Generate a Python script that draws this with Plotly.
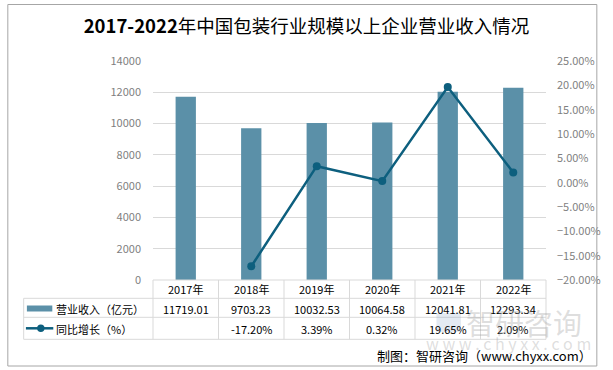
import plotly.graph_objects as go

# ---- data ----
categories = ["2017年", "2018年", "2019年", "2020年", "2021年", "2022年"]
revenue = [11719.01, 9703.23, 10032.53, 10064.58, 12041.81, 12293.34]
growth = [None, -17.20, 3.39, 0.32, 19.65, 2.09]
revenue_labels = ["11719.01", "9703.23", "10032.53", "10064.58", "12041.81", "12293.34"]
growth_labels = ["", "-17.20%", "3.39%", "0.32%", "19.65%", "2.09%"]
series_names = ["营业收入（亿元）", "同比增长（%）"]
title_text = "<b>2017-2022</b>年中国包装行业规模以上企业营业收入情况"
source_text = "制图：智研咨询（www.chyxx.com）"

# ---- layout constants ----
W, H = 613, 370
L, R, T, B = 153, 58, 61, 90
PW, PH = W - L - R, H - T - B
BAR_COLOR = "#5b90a8"
LINE_COLOR = "#0d5f7e"
GRID = "#d9d9d9"
FONT = "Noto Sans CJK SC"


def px(xp):
    return (xp - L) / PW


def py(yp):
    return (H - B - yp) / PH


fig = go.Figure()
fig.add_trace(go.Bar(x=categories, y=revenue, name=series_names[0],
                     marker=dict(color=BAR_COLOR, line=dict(width=0))))
fig.add_trace(go.Scatter(x=categories, y=growth, name=series_names[1], yaxis="y2",
                         mode="lines+markers",
                         line=dict(color=LINE_COLOR, width=2.5),
                         marker=dict(color=LINE_COLOR, size=8)))

shapes = []
annotations = []

# outer frame
shapes.append(dict(type="rect", xref="paper", yref="paper",
                   x0=px(4.5), x1=px(607), y0=py(4.5), y1=py(366),
                   line=dict(color="#a6a6a6", width=1), layer="below"))

# table grid
y_rows = [H - B, 298.3, 317.3, 339.3]
x_left = 20.7
n = len(categories)
shapes.append(dict(type="line", xref="paper", yref="paper",
                   x0=0, x1=1, y0=py(y_rows[0]), y1=py(y_rows[0]),
                   line=dict(color=GRID, width=1)))
for yr in y_rows[1:]:
    shapes.append(dict(type="line", xref="paper", yref="paper",
                       x0=px(x_left), x1=1, y0=py(yr), y1=py(yr),
                       line=dict(color=GRID, width=1)))
shapes.append(dict(type="line", xref="paper", yref="paper",
                   x0=px(x_left), x1=px(x_left), y0=py(y_rows[1]), y1=py(y_rows[3]),
                   line=dict(color=GRID, width=1)))
for i in range(n + 1):
    xv = i / n
    shapes.append(dict(type="line", xref="paper", yref="paper",
                       x0=xv, x1=xv, y0=py(y_rows[0]), y1=py(y_rows[3]),
                       line=dict(color=GRID, width=1)))

# legend keys in table
shapes.append(dict(type="rect", xref="paper", yref="paper",
                   x0=px(24), x1=px(50), y0=py(305.5), y1=py(311.5),
                   fillcolor=BAR_COLOR, line=dict(width=0)))
shapes.append(dict(type="line", xref="paper", yref="paper",
                   x0=px(23), x1=px(51), y0=py(328.3), y1=py(328.3),
                   line=dict(color=LINE_COLOR, width=2.5)))
shapes.append(dict(type="circle", xref="paper", yref="paper",
                   x0=px(34.5), x1=px(42), y0=py(324.6), y1=py(332.1),
                   fillcolor=LINE_COLOR, line=dict(width=0)))

row_y = [289, 308.5, 328.5]
tf = dict(family=FONT, size=11, color="#000000")
for i, c in enumerate(categories):
    xc = (i + 0.5) / n
    annotations.append(dict(x=xc, y=py(row_y[0]), xref="paper", yref="paper",
                            text=c, showarrow=False, font=tf,
                            xanchor="center", yanchor="middle"))
    annotations.append(dict(x=xc, y=py(row_y[1]), xref="paper", yref="paper",
                            text=revenue_labels[i], showarrow=False, font=tf,
                            xanchor="center", yanchor="middle"))
    if growth_labels[i]:
        annotations.append(dict(x=xc, y=py(row_y[2]), xref="paper", yref="paper",
                                text=growth_labels[i], showarrow=False, font=tf,
                                xanchor="center", yanchor="middle"))
for name, yr in zip(series_names, row_y[1:]):
    annotations.append(dict(x=px(51.5), y=py(yr), xref="paper", yref="paper",
                            text=name, showarrow=False,
                            font=dict(family=FONT, size=11, color="#000000"),
                            xanchor="left", yanchor="middle"))

# watermark
annotations.append(dict(x=px(533), y=py(322), xref="paper", yref="paper",
                        text="智研咨询", showarrow=False,
                        font=dict(family=FONT, size=29, color="rgba(160,160,160,0.35)"),
                        xanchor="center", yanchor="middle"))
annotations.append(dict(x=px(517), y=py(343), xref="paper", yref="paper",
                        text="w w w . c h y x x . c o m", showarrow=False,
                        font=dict(family=FONT, size=16, color="rgba(160,160,160,0.35)"),
                        xanchor="center", yanchor="middle"))
shapes.append(dict(type="rect", xref="paper", yref="paper",
                   x0=px(443), x1=px(468), y0=py(313), y1=py(332),
                   fillcolor="rgba(120,150,190,0.2)", line=dict(width=0)))

# source
annotations.append(dict(x=px(604), y=py(355), xref="paper", yref="paper",
                        text=source_text, showarrow=False,
                        font=dict(family=FONT, size=13, color="#000000"),
                        xanchor="right", yanchor="middle"))

fig.update_layout(
    width=W, height=H, autosize=False,
    margin=dict(l=L, r=R, t=T, b=B, pad=0),
    paper_bgcolor="white", plot_bgcolor="white",
    showlegend=False,
    bargap=0.69,
    font=dict(family=FONT, size=11, color="#7f7f7f"),
    title=dict(text=title_text, x=0.5, xref="container", xanchor="center",
               y=1 - 27 / H, yref="container", yanchor="middle",
               font=dict(family=FONT, size=18.5, color="#000000")),
    xaxis=dict(showticklabels=False, showgrid=False, zeroline=False,
               showline=False, ticks=""),
    yaxis=dict(range=[0, 14000], dtick=2000, showgrid=True, gridcolor=GRID,
               gridwidth=1, zeroline=False, showline=False, ticks="",
               tickformat="d",
               ticklabelstandoff=11, tickfont=dict(size=11, color="#7f7f7f")),
    yaxis2=dict(range=[-20, 25], dtick=5, overlaying="y", side="right",
                showgrid=False, zeroline=False, showline=False, ticks="",
                tickformat=".2f", ticksuffix="%", ticklabelstandoff=10,
                tickfont=dict(size=11, color="#7f7f7f")),
    shapes=shapes,
    annotations=annotations,
)

fig.write_html("out.html", config={"displayModeBar": False},
               post_script="document.body.style.margin='0';")
